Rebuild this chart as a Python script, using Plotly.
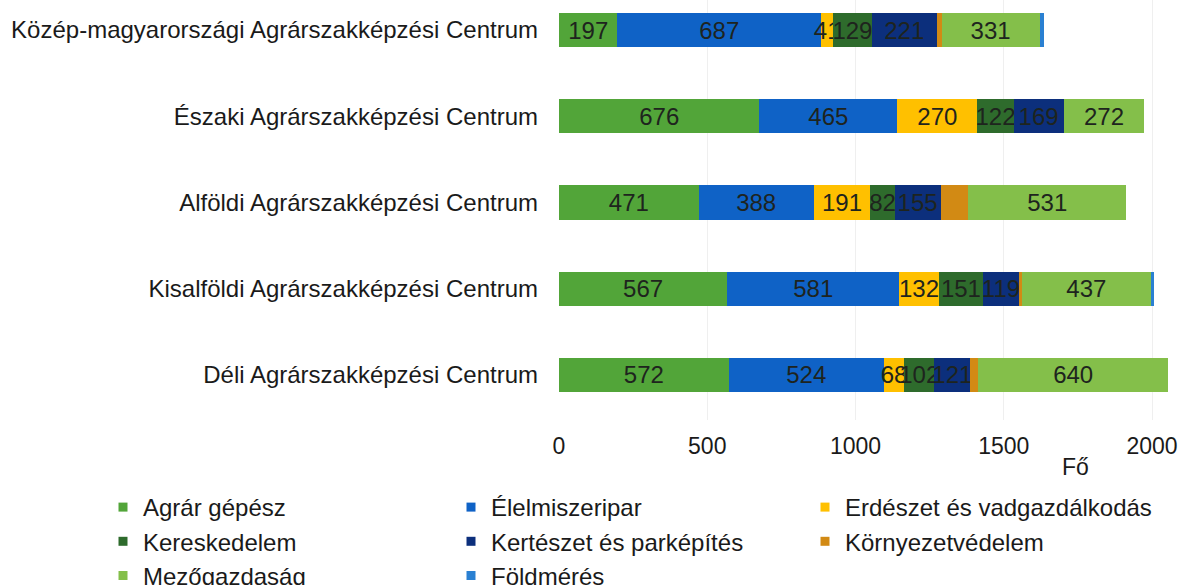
import plotly.graph_objects as go

categories = [
    "Közép-magyarországi Agrárszakképzési Centrum",
    "Északi Agrárszakképzési Centrum",
    "Alföldi Agrárszakképzési Centrum",
    "Kisalföldi Agrárszakképzési Centrum",
    "Déli Agrárszakképzési Centrum",
]

series_names = [
    "Agrár gépész", "Élelmiszeripar", "Erdészet és vadgazdálkodás",
    "Kereskedelem", "Kertészet és parképítés", "Környezetvédelem",
    "Mezőgazdaság", "Földmérés",
]

agrar_gepesz = [197, 676, 471, 567, 572]
elelmiszeripar = [687, 465, 388, 581, 524]
erdeszet = [41, 270, 191, 132, 68]
kereskedelem = [129, 122, 82, 151, 102]
kerteszet = [221, 169, 155, 119, 121]
kornyezetvedelem = [15, 0, 94, 10, 27]
mezogazdasag = [331, 272, 531, 437, 640]
foldmeres = [14, 0, 0, 9, 0]

values = [agrar_gepesz, elelmiszeripar, erdeszet, kereskedelem,
          kerteszet, kornyezetvedelem, mezogazdasag, foldmeres]
colors = ["#52a539", "#0f62c6", "#ffc000", "#2e6b2c",
          "#0c2f7c", "#d28a14", "#84bf4a", "#2a80d2"]
show_labels = [True, True, True, True, True, False, True, False]
# legend column for each series (3 columns, filled row by row)
legend_ids = ["legend", "legend2", "legend3",
              "legend", "legend2", "legend3",
              "legend", "legend2"]

FONT = "Liberation Sans, Arial, sans-serif"
TXT = "#1a1a1a"

fig = go.Figure()
for name, vals, col, lab in zip(series_names, values, colors, show_labels):
    fig.add_trace(go.Bar(
        y=categories, x=vals, name=name, orientation="h",
        marker=dict(color=col, line=dict(width=0)),
        text=[str(v) if (lab and v > 0) else "" for v in vals],
        textposition="inside", insidetextanchor="middle",
        constraintext="none", textangle=0,
        textfont=dict(family=FONT, size=24, color="#1e241e"),
        showlegend=False, hoverinfo="x+name",
    ))
# legend entries with small square markers
for name, col, lid in zip(series_names, colors, legend_ids):
    fig.add_trace(go.Scatter(
        x=[None], y=[None], mode="markers", name=name,
        marker=dict(symbol="square", size=9, color=col),
        showlegend=True, legend=lid,
    ))

W, H = 1179, 585
L, R, T, B = 559, 0, 0, 165
pw = W - L - R
ph = H - T - B

def legend_cfg(px_x):
    return dict(
        orientation="v", xref="paper", yref="container",
        x=(px_x - L) / pw, y=1 - 485 / H, xanchor="left", yanchor="top",
        font=dict(family=FONT, size=24, color=TXT),
        bgcolor="rgba(0,0,0,0)", traceorder="normal",
        itemwidth=30,
    )

fig.update_layout(
    barmode="stack",
    bargap=0.605,
    width=W, height=H,
    margin=dict(l=L, r=R, t=T, b=B),
    plot_bgcolor="white", paper_bgcolor="white",
    font=dict(family=FONT, size=24, color=TXT),
    legend=legend_cfg(103),
    legend2=legend_cfg(451),
    legend3=legend_cfg(805),
    annotations=[dict(
        text="Fő", xref="paper", yref="paper",
        x=(1075 - L) / pw, y=-(467 - ph) / ph,
        xanchor="center", yanchor="middle", showarrow=False,
        font=dict(family=FONT, size=23, color=TXT),
    )],
)
fig.update_xaxes(
    range=[0, 2091], tickvals=[0, 500, 1000, 1500, 2000],
    showgrid=True, gridcolor="#efefef", gridwidth=1,
    zeroline=False, showline=False, ticks="",
    ticklabelstandoff=10, automargin=False,
    tickfont=dict(family=FONT, size=23, color=TXT),
)
fig.update_yaxes(
    type="category", categoryorder="array", categoryarray=categories,
    range=[4.523, -0.349], showgrid=False, zeroline=False,
    showline=False, ticks="", ticklabelstandoff=20, automargin=False,
    tickfont=dict(family=FONT, size=24, color=TXT),
)

fig.write_html("out.html", config={"displayModeBar": False},
               post_script="document.body.style.margin='0';")
